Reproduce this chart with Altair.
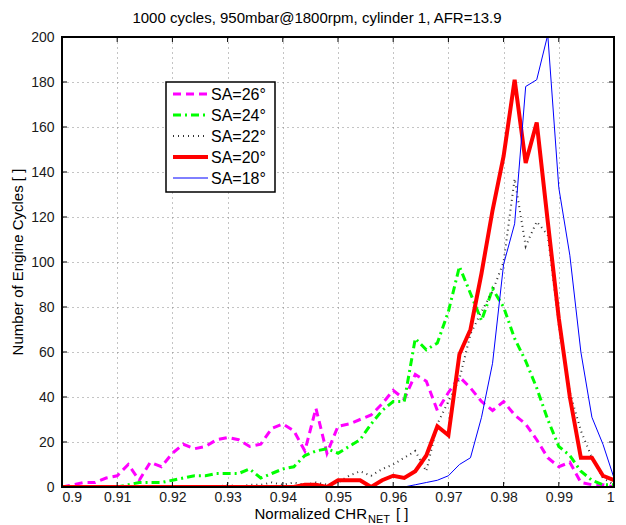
import altair as alt
import pandas as pd

# ---------------- data ----------------
chr_bins = [0.900, 0.902, 0.904, 0.906, 0.908, 0.910, 0.912, 0.914, 0.916, 0.918,
            0.920, 0.922, 0.924, 0.926, 0.928, 0.930, 0.932, 0.934, 0.936, 0.938,
            0.940, 0.942, 0.944, 0.946, 0.948, 0.950, 0.952, 0.954, 0.956, 0.958,
            0.960, 0.962, 0.964, 0.966, 0.968, 0.970, 0.972, 0.974, 0.976, 0.978,
            0.980, 0.982, 0.984, 0.986, 0.988, 0.990, 0.992, 0.994, 0.996, 0.998,
            1.000]

sa26 = [0, 1, 2, 2, 4, 5, 10, 3, 11, 9,
        15, 19, 17, 18, 21, 22, 21, 18, 19, 26,
        28, 25, 16, 35, 15, 27, 28, 30, 32, 37,
        43, 39, 50, 47, 34, 42, 49, 44, 38, 34,
        38, 32, 28, 21, 13, 9, 11, 2, 1, 1,
        0]
sa24 = [0, 0, 0, 0, 0, 0, 1, 2, 2, 2,
        3, 4, 5, 5, 6, 6, 6, 8, 4, 6,
        8, 9, 14, 16, 17, 15, 18, 21, 28, 34,
        38, 38, 66, 61, 64, 78, 98, 86, 74, 88,
        80, 66, 56, 44, 30, 18, 14, 7, 3, 1,
        1]
sa22 = [0, 0, 0, 0, 0, 0, 0, 0, 0, 0,
        0, 0, 0, 0, 0, 1, 0, 1, 1, 2,
        1, 2, 1, 2, 1, 2, 5, 7, 5, 8,
        10, 13, 16, 7, 28, 38, 48, 68, 78, 87,
        100, 137, 107, 118, 112, 72, 42, 25, 13, 4,
        1]
sa20 = [0, 0, 0, 0, 0, 0, 0, 0, 0, 0,
        0, 0, 0, 0, 0, 0, 0, 0, 0, 0,
        0, 0, 1, 1, 0, 3, 3, 3, 0, 3,
        5, 4, 7, 14, 27, 23, 59, 70, 95, 123,
        147, 181, 144, 162, 118, 75, 40, 13, 13, 5,
        3]
sa18 = [0, 0, 0, 0, 0, 0, 0, 0, 0, 0,
        0, 0, 0, 0, 0, 0, 0, 0, 0, 0,
        0, 0, 0, 0, 0, 0, 0, 0, 0, 0,
        0, 0, 1, 2, 3, 5, 10, 13, 31, 55,
        99, 117, 178, 181, 201, 133, 103, 60, 31, 19,
        4]

series_names = ["SA=26°", "SA=24°", "SA=22°", "SA=20°", "SA=18°"]
series_values = [sa26, sa24, sa22, sa20, sa18]

x_ticks = [0.9, 0.91, 0.92, 0.93, 0.94, 0.95, 0.96, 0.97, 0.98, 0.99, 1.0]
y_ticks = [0, 20, 40, 60, 80, 100, 120, 140, 160, 180, 200]

title_text = "1000 cycles, 950mbar@1800rpm, cylinder 1, AFR=13.9"
y_title = "Number of Engine Cycles [ ]"
x_title_main = "Normalized CHR"
x_title_sub = "NET"
x_title_end = "[ ]"

# ---------------- styles ----------------
W, H = 552, 450
FONT = "Liberation Sans"
styles = [
    dict(color="#ff00ff", width=3, dash=[8, 5]),
    dict(color="#00ff00", width=3, dash=[8, 4, 2, 4]),
    dict(color="#333333", width=2, dash=[1, 4]),
    dict(color="#ff0000", width=4, dash=None),
    dict(color="#0000ff", width=1, dash=None),
]

xs = alt.Scale(domain=[0.9, 1.0], nice=False, zero=False)
ys = alt.Scale(domain=[0, 200], nice=False)

x_axis = alt.Axis(values=x_ticks, format="~g", title=None, grid=True,
                  gridDash=[1, 4], gridColor="#888888", gridWidth=1,
                  ticks=False, tickSize=0, domain=False, labelPadding=3,
                  labelFont=FONT, labelFontSize=14, labelColor="#1a1a1a")
y_axis = alt.Axis(values=y_ticks, format="d", title=None, grid=True,
                  gridDash=[1, 4], gridColor="#888888", gridWidth=1,
                  ticks=False, tickSize=0, domain=False, labelPadding=8,
                  labelFont=FONT, labelFontSize=14, labelColor="#1a1a1a")

df = pd.DataFrame({"chr": chr_bins})
for name, vals in zip(series_names, series_values):
    df[name] = vals

layers = []

# series lines
for name, st in zip(series_names, styles):
    mk = dict(color=st["color"], strokeWidth=st["width"], clip=True)
    if st["dash"]:
        mk["strokeDash"] = st["dash"]
    layers.append(
        alt.Chart(df).mark_line(**mk).encode(
            x=alt.X("chr:Q", scale=xs, axis=x_axis),
            y=alt.Y(f"{name}:Q", scale=ys, axis=y_axis),
        )
    )

# frame box
one = pd.DataFrame({"k": [0]})
layers.append(
    alt.Chart(one).mark_rect(filled=False, stroke="black", strokeWidth=2).encode(
        x=alt.value(0), x2=alt.value(W), y=alt.value(0), y2=alt.value(H)
    )
)

# inward ticks
xt = pd.DataFrame({"t": x_ticks})
yt = pd.DataFrame({"t": y_ticks})
TL = 5
layers.append(alt.Chart(xt).mark_rule(color="black", strokeWidth=1).encode(
    x=alt.X("t:Q", scale=xs, axis=x_axis), y=alt.value(H), y2=alt.value(H - TL)))
layers.append(alt.Chart(xt).mark_rule(color="black", strokeWidth=1).encode(
    x=alt.X("t:Q", scale=xs, axis=x_axis), y=alt.value(0), y2=alt.value(TL)))
layers.append(alt.Chart(yt).mark_rule(color="black", strokeWidth=1).encode(
    y=alt.Y("t:Q", scale=ys, axis=y_axis), x=alt.value(0), x2=alt.value(TL)))
layers.append(alt.Chart(yt).mark_rule(color="black", strokeWidth=1).encode(
    y=alt.Y("t:Q", scale=ys, axis=y_axis), x=alt.value(W), x2=alt.value(W - TL)))

# legend
LX0, LX1, LY0, LY1 = 104, 213, 45, 155
layers.append(
    alt.Chart(one).mark_rect(fill="white", stroke="black", strokeWidth=1.5).encode(
        x=alt.value(LX0), x2=alt.value(LX1), y=alt.value(LY0), y2=alt.value(LY1)
    )
)
row_y = [57, 78, 99, 120, 141]
for name, st, ry in zip(series_names, styles, row_y):
    mk = dict(color=st["color"], strokeWidth=st["width"])
    if st["dash"]:
        mk["strokeDash"] = st["dash"]
    layers.append(alt.Chart(one).mark_rule(**mk).encode(
        x=alt.value(111), x2=alt.value(146), y=alt.value(ry)))
    layers.append(alt.Chart(one).mark_text(
        text=name, align="left", baseline="middle", font=FONT, fontSize=16,
        color="#000000").encode(x=alt.value(149), y=alt.value(ry + 1)))

# titles
layers.append(alt.Chart(one).mark_text(
    text=title_text, align="center", baseline="alphabetic", font=FONT,
    fontSize=15, color="#000000").encode(x=alt.value(255), y=alt.value(-14)))
layers.append(alt.Chart(one).mark_text(
    text=y_title, align="center", baseline="middle", font=FONT, angle=270,
    fontSize=15, color="#000000").encode(x=alt.value(-44), y=alt.value(225)))
layers.append(alt.Chart(one).mark_text(
    text=x_title_main, align="right", baseline="alphabetic", font=FONT,
    fontSize=15, color="#000000").encode(x=alt.value(305), y=alt.value(482)))
layers.append(alt.Chart(one).mark_text(
    text=x_title_sub, align="left", baseline="alphabetic", font=FONT,
    fontSize=11, color="#000000").encode(x=alt.value(306), y=alt.value(486)))
layers.append(alt.Chart(one).mark_text(
    text=x_title_end, align="left", baseline="alphabetic", font=FONT,
    fontSize=15, color="#000000").encode(x=alt.value(334), y=alt.value(482)))

chart = alt.layer(*layers).properties(
    width=W, height=H,
    padding={"left": 62, "top": 37, "right": 12, "bottom": 38},
    autosize=alt.AutoSizeParams(type="none"),
    background="white",
).configure_view(stroke=None)

chart.save("out.html", embed_options={"renderer": "svg", "actions": False})
